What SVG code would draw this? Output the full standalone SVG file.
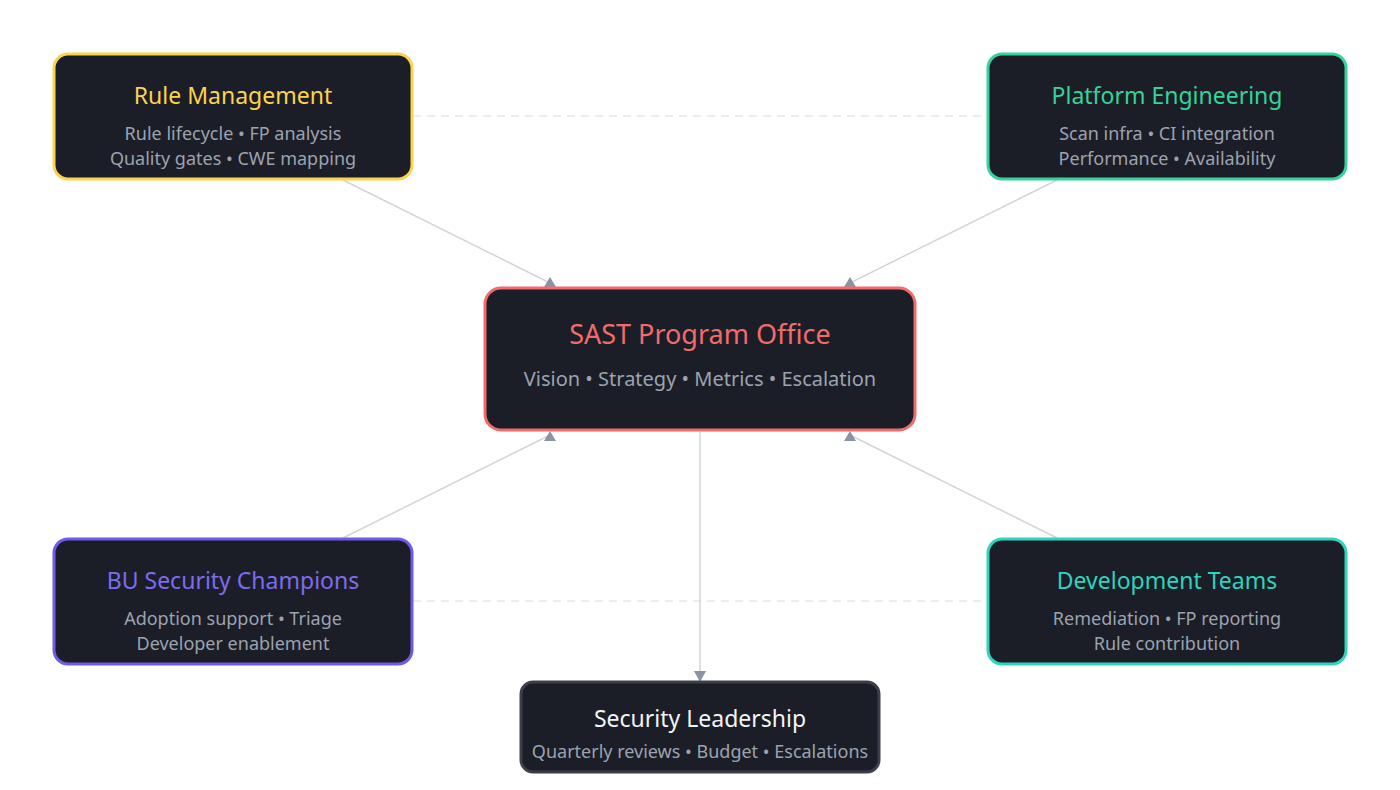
<svg xmlns="http://www.w3.org/2000/svg" width="1400" height="790" viewBox="0 0 1400 790">
<style>
.box{fill:#1b1e27;stroke-width:3}
.t{font-family:"Noto Sans",sans-serif;font-size:23px;text-anchor:middle}
.s{font-family:"Noto Sans",sans-serif;font-size:18px;fill:#9ca3af;text-anchor:middle}
.c{stroke:#d1d5db;stroke-width:1.5;fill:none}
.d{stroke:#e5e7eb;stroke-width:1.5;stroke-dasharray:8 6;fill:none}
.a{fill:#8b93a3}
</style>
<rect width="1400" height="790" fill="#ffffff"/>
<g id="connectors">
<line class="d" x1="413" y1="116" x2="987" y2="116"/>
<line class="d" x1="413" y1="601" x2="987" y2="601"/>
<line class="c" x1="343" y1="180" x2="550" y2="283"/>
<line class="c" x1="1057" y1="180" x2="850" y2="283"/>
<line class="c" x1="343" y1="538" x2="550" y2="435"/>
<line class="c" x1="1057" y1="538" x2="850" y2="435"/>
<line class="c" x1="700" y1="432" x2="700" y2="672"/>
<polygon class="a" points="550,277 544,287 556,287"/>
<polygon class="a" points="850,277 844,287 856,287"/>
<polygon class="a" points="550,431 544,441 556,441"/>
<polygon class="a" points="850,431 844,441 856,441"/>
<polygon class="a" points="700,682 694,671 706,671"/>
</g>
<g id="center"><rect class="box" x="485" y="288" width="430" height="142" rx="16" stroke="#f26b6b"/>
<text class="t" x="700" y="344" fill="#f26b6b" style="font-size:27px">SAST Program Office</text>
<text class="s" x="700" y="386" style="font-size:20px">Vision • Strategy • Metrics • Escalation</text></g>
<g id="rule"><rect class="box" x="54" y="54" width="358" height="125" rx="14" stroke="#fcd34d"/>
<text class="t" x="233" y="104" fill="#fcd34d">Rule Management</text>
<text class="s" x="233" y="140">Rule lifecycle • FP analysis</text>
<text class="s" x="233" y="165">Quality gates • CWE mapping</text></g>
<g id="platform"><rect class="box" x="988" y="54" width="358" height="125" rx="14" stroke="#34d399"/>
<text class="t" x="1167" y="104" fill="#34d399">Platform Engineering</text>
<text class="s" x="1167" y="140">Scan infra • CI integration</text>
<text class="s" x="1167" y="165">Performance • Availability</text></g>
<g id="bu"><rect class="box" x="54" y="539" width="358" height="125" rx="14" stroke="#6d5ce8"/>
<text class="t" x="233" y="589" fill="#7c6cf0">BU Security Champions</text>
<text class="s" x="233" y="625">Adoption support • Triage</text>
<text class="s" x="233" y="650">Developer enablement</text></g>
<g id="dev"><rect class="box" x="988" y="539" width="358" height="125" rx="14" stroke="#2dd4bf"/>
<text class="t" x="1167" y="589" fill="#2dd4bf">Development Teams</text>
<text class="s" x="1167" y="625">Remediation • FP reporting</text>
<text class="s" x="1167" y="650">Rule contribution</text></g>
<g id="leader"><rect class="box" x="521" y="682" width="358" height="90" rx="12" stroke="#3a3f4b"/>
<text class="t" x="700" y="727" fill="#f3f4f6">Security Leadership</text>
<text class="s" x="700" y="758">Quarterly reviews • Budget • Escalations</text></g>
</svg>
